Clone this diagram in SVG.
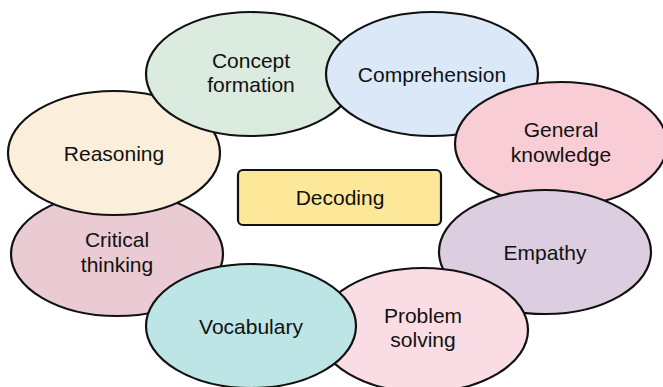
<svg xmlns="http://www.w3.org/2000/svg" width="663" height="387" viewBox="0 0 663 387">
  <style>
    .bubble { stroke: #111; stroke-width: 2.2; }
    .label { font-family: "Liberation Sans", Arial, sans-serif; font-size: 21px; fill: #111; text-anchor: middle; }
  </style>
  <rect width="663" height="387" fill="#ffffff"/>
  <g id="connectors"/>
  <!-- ring of skills, drawn bottom-most first so each overlaps the previous one -->
  <g id="critical-thinking">
    <ellipse class="bubble" cx="117" cy="254" rx="106" ry="62" fill="#eacbd3"/>
    <text class="label" x="117" y="247">Critical</text>
    <text class="label" x="117" y="272">thinking</text>
  </g>
  <g id="reasoning">
    <ellipse class="bubble" cx="114" cy="153" rx="106" ry="62" fill="#fbeedb"/>
    <text class="label" x="114" y="161">Reasoning</text>
  </g>
  <g id="concept-formation">
    <ellipse class="bubble" cx="251" cy="74" rx="105" ry="62" fill="#dcebdf"/>
    <text class="label" x="251" y="68">Concept</text>
    <text class="label" x="251" y="92">formation</text>
  </g>
  <g id="comprehension">
    <ellipse class="bubble" cx="432" cy="74" rx="106" ry="62" fill="#dae8f8"/>
    <text class="label" x="432" y="82">Comprehension</text>
  </g>
  <g id="general-knowledge">
    <ellipse class="bubble" cx="561" cy="144" rx="106" ry="62" fill="#f8cdd6"/>
    <text class="label" x="561" y="137">General</text>
    <text class="label" x="561" y="162">knowledge</text>
  </g>
  <g id="empathy">
    <ellipse class="bubble" cx="545" cy="252" rx="106" ry="62" fill="#dccde0"/>
    <text class="label" x="545" y="260">Empathy</text>
  </g>
  <g id="problem-solving">
    <ellipse class="bubble" cx="423" cy="330" rx="105" ry="62" fill="#fadde4"/>
    <text class="label" x="423" y="323">Problem</text>
    <text class="label" x="423" y="347">solving</text>
  </g>
  <g id="vocabulary">
    <ellipse class="bubble" cx="251" cy="326" rx="105" ry="62" fill="#bde5e6"/>
    <text class="label" x="251" y="334">Vocabulary</text>
  </g>
  <!-- centre box -->
  <g id="decoding">
    <rect class="bubble" x="238" y="170" width="203" height="55" rx="5" fill="#fde89a"/>
    <text class="label" x="340" y="205">Decoding</text>
  </g>
</svg>
